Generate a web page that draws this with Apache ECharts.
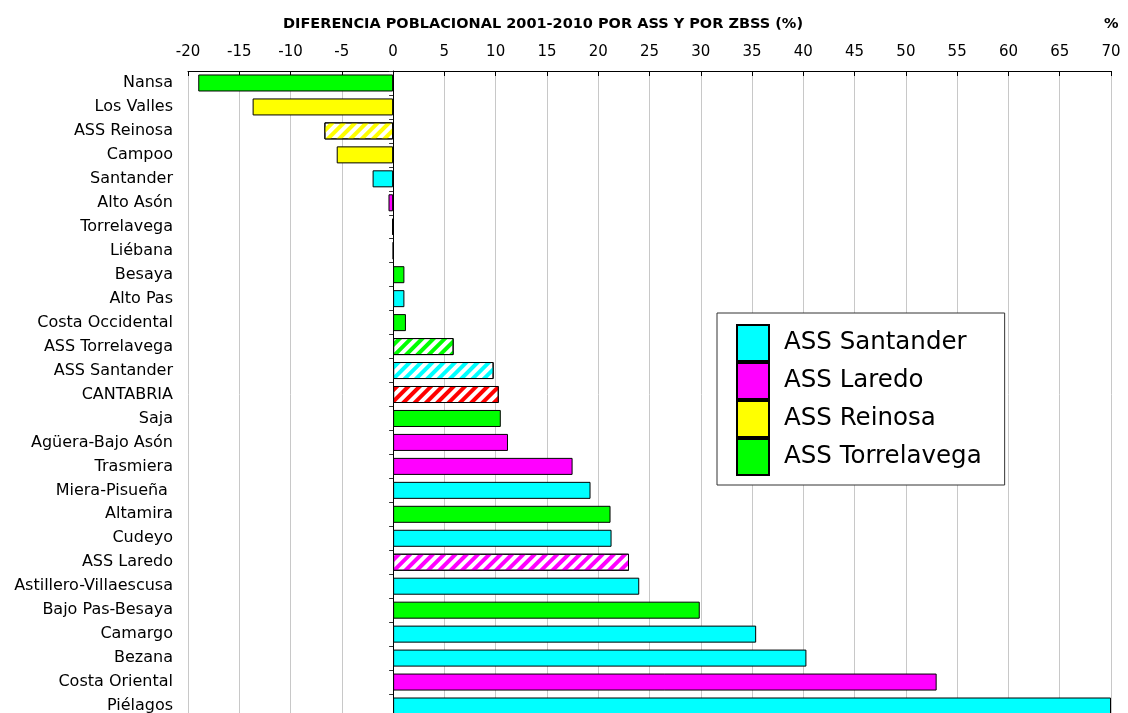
<!DOCTYPE html>
<html>
<head>
<meta charset="utf-8">
<script src="https://cdn.jsdelivr.net/npm/echarts@6/dist/echarts.min.js"></script>
<style>
  html, body { margin: 0; padding: 0; background: #fff; overflow: hidden; }
  #container { width: 1128px; height: 720px; }
</style>
</head>
<body>
<div id="container"></div>
<script>
// zonas, de arriba a abajo
var categories = ['Nansa', 'Los Valles', 'ASS Reinosa', 'Campoo', 'Santander', 'Alto Asón',
  'Torrelavega', 'Liébana', 'Besaya', 'Alto Pas', 'Costa Occidental', 'ASS Torrelavega',
  'ASS Santander', 'CANTABRIA', 'Saja', 'Agüera-Bajo Asón', 'Trasmiera', 'Miera-Pisueña ',
  'Altamira', 'Cudeyo', 'ASS Laredo', 'Astillero-Villaescusa', 'Bajo Pas-Besaya', 'Camargo',
  'Bezana', 'Costa Oriental', 'Piélagos'];
var values = [-19.0, -13.7, -6.7, -5.5, -2.0, -0.45, -0.1, 0, 1.1, 1.1, 1.25, 5.9,
  9.8, 10.3, 10.5, 11.2, 17.5, 19.25, 21.2, 21.3, 23.0, 24.0, 29.9, 35.4, 40.3, 53.0, 70.0];
// area de cada zona (S=Santander, L=Laredo, R=Reinosa, T=Torrelavega, C=Cantabria)
var groups = ['T', 'R', 'R', 'R', 'S', 'L', 'T', 'T', 'T', 'S', 'T', 'T',
  'S', 'C', 'T', 'L', 'L', 'S', 'T', 'S', 'L', 'S', 'T', 'S', 'S', 'L', 'S'];
// totales de ASS y Cantabria van rayados
var hatched = [false, false, true, false, false, false, false, false, false, false, false, true,
  true, true, false, false, false, false, false, false, true, false, false, false, false, false, false];
var legendNames = ['ASS Santander', 'ASS Laredo', 'ASS Reinosa', 'ASS Torrelavega'];
var legendKeys = ['S', 'L', 'R', 'T'];
var colors = { S: '#00ffff', L: '#ff00ff', R: '#ffff00', T: '#00ff00', C: '#ff0000' };
var xTicks = { min: -20, max: 70, interval: 5 };

var font = 'DejaVu Sans, Verdana, sans-serif';

var barData = [];
for (var i = 0; i < values.length; i++) {
  var c = colors[groups[i]];
  var item = { value: values[i], itemStyle: { color: c } };
  if (hatched[i]) {
    item.itemStyle = {
      color: '#ffffff',
      decal: {
        symbol: 'rect',
        symbolSize: 1,
        color: c,
        dashArrayX: [1, 0],
        dashArrayY: [4, 3.5],
        rotation: -Math.PI / 4
      }
    };
  }
  barData.push(item);
}

var series = [{
  name: 'datos',
  type: 'bar',
  stack: 'all',
  yAxisIndex: 0,
  barCategoryGap: '29%',
  data: barData,
  itemStyle: { borderColor: '#000', borderWidth: 1 },
  silent: true
}];
// series vacias solo para la leyenda
for (var k = 0; k < legendNames.length; k++) {
  series.push({
    name: legendNames[k],
    type: 'bar',
    stack: 'all',
    yAxisIndex: 0,
    data: [],
    itemStyle: { color: colors[legendKeys[k]] }
  });
}

var myChart = echarts.init(document.getElementById('container'));
var option = {
  animation: false,
  backgroundColor: '#fff',
  title: [{
    text: 'DIFERENCIA POBLACIONAL 2001-2010 POR ASS Y POR ZBSS (%)',
    left: 538,
    textAlign: 'center',
    top: 12,
    textStyle: { fontFamily: font, fontSize: 14.5, fontWeight: 'bold', color: '#000' }
  }, {
    text: '%',
    left: 1099,
    top: 12,
    textStyle: { fontFamily: font, fontSize: 14.5, fontWeight: 'bold', color: '#000' }
  }],
  legend: {
    data: legendNames,
    orient: 'vertical',
    left: 717,
    top: 313,
    padding: [11, 23, 9, 19],
    itemGap: 0,
    itemWidth: 32,
    itemHeight: 36,
    icon: 'rect',
    borderColor: '#333',
    borderWidth: 1,
    backgroundColor: '#fff',
    itemStyle: { borderColor: '#000', borderWidth: 2 },
    textStyle: { fontFamily: font, fontSize: 24.5, color: '#000', padding: [0, 0, 0, 10] },
    selectedMode: false
  },
  grid: { left: 188, right: 17, top: 71, bottom: 2 },
  xAxis: {
    type: 'value',
    position: 'top',
    min: xTicks.min,
    max: xTicks.max,
    interval: xTicks.interval,
    axisLine: { show: true, lineStyle: { color: '#000', width: 1 } },
    axisTick: { show: true, inside: true, length: 5, lineStyle: { color: '#000' } },
    axisLabel: { fontFamily: font, fontSize: 15, color: '#000', margin: 11 },
    splitLine: { show: true, lineStyle: { color: '#c8c8c8', width: 1 } }
  },
  yAxis: [{
    type: 'category',
    data: categories,
    inverse: true,
    axisLine: { show: false, onZero: false },
    axisTick: { show: false },
    axisLabel: { fontFamily: font, fontSize: 16, color: '#000', margin: 15 }
  }, {
    type: 'category',
    data: categories,
    inverse: true,
    position: 'left',
    axisLine: { show: true, onZero: true, lineStyle: { color: '#000', width: 1 } },
    axisTick: { show: true, length: 4, lineStyle: { color: '#333' } },
    axisLabel: { show: false }
  }],
  series: series
};
myChart.setOption(option);
</script>
</body>
</html>
